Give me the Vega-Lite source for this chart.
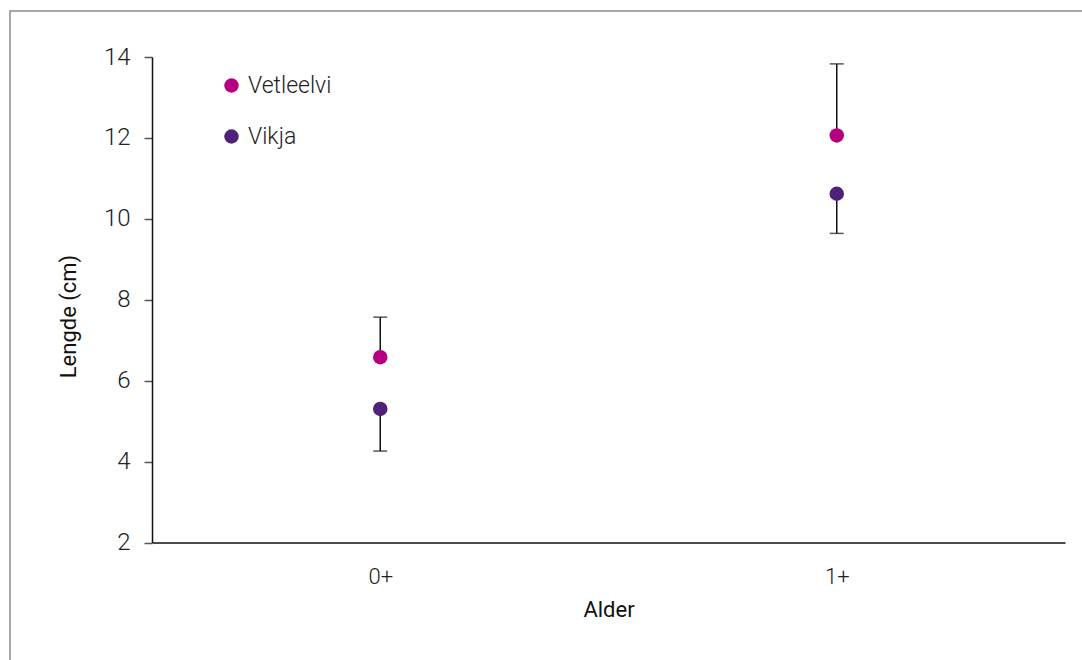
{
  "$schema": "https://vega.github.io/schema/vega-lite/v6.json",
  "width": 1073,
  "height": 650,
  "autosize": {"type": "none"},
  "padding": {"left": 10, "top": 11, "right": -1, "bottom": -1},
  "background": "white",
  "config": {
    "view": {"stroke": "#8c8c8c", "strokeWidth": 1.5},
    "font": "Roboto",
    "axis": {"labelFont": "Roboto", "titleFont": "Roboto", "labelColor": "#222222", "titleColor": "#111111", "grid": false}
  },
  "data": {
    "values": [
      {"Alder": "0+", "Elv": "Vetleelvi", "Lengde": 6.58, "Feilende": 7.57},
      {"Alder": "0+", "Elv": "Vikja", "Lengde": 5.3, "Feilende": 4.26},
      {"Alder": "1+", "Elv": "Vetleelvi", "Lengde": 12.06, "Feilende": 13.83},
      {"Alder": "1+", "Elv": "Vikja", "Lengde": 10.62, "Feilende": 9.64}
    ]
  },
  "encoding": {
    "x": {
      "field": "Alder",
      "type": "ordinal",
      "scale": {"type": "point", "domain": ["0+", "1+"], "range": [142, 1055], "padding": 0.5},
      "axis": {
        "title": "Alder",
        "orient": "bottom",
        "offset": -118.5,
        "labelAngle": 0,
        "ticks": false,
        "domainColor": "#111111",
        "domainWidth": 1.5,
        "labelFontSize": 22,
        "labelFontWeight": 300,
        "labelPadding": 24,
        "titleFontSize": 22,
        "titleFontWeight": "normal",
        "titlePadding": 12
      }
    }
  },
  "layer": [
    {
      "mark": {"type": "rule", "color": "#111111", "strokeWidth": 1.5},
      "encoding": {
        "y": {
          "field": "Lengde",
          "type": "quantitative",
          "scale": {"domain": [2, 14], "range": [531.5, 46], "nice": false, "zero": false},
          "axis": {
            "title": "Lengde (cm)",
            "orient": "left",
            "offset": -142,
            "values": [2, 4, 6, 8, 10, 12, 14],
            "format": "d",
            "domainColor": "#111111",
            "domainWidth": 1.5,
            "tickColor": "#555555",
            "tickSize": 8,
            "tickWidth": 1.5,
            "labelFontSize": 24,
            "labelFontWeight": 300,
            "labelPadding": 14,
            "titleFontSize": 22,
            "titleFontWeight": "normal",
            "titleX": -84,
            "titleY": 305,
            "titleBaseline": "middle",
            "titleAngle": -90
          }
        },
        "y2": {"field": "Feilende"}
      }
    },
    {
      "mark": {"type": "tick", "color": "#111111", "thickness": 1.5, "size": 14, "orient": "horizontal"},
      "encoding": {
        "y": {"field": "Feilende", "type": "quantitative"}
      }
    },
    {
      "mark": {"type": "point", "filled": true, "shape": "circle", "size": 210, "opacity": 1},
      "encoding": {
        "y": {"field": "Lengde", "type": "quantitative"},
        "color": {
          "field": "Elv",
          "type": "nominal",
          "scale": {"domain": ["Vetleelvi", "Vikja"], "range": ["#B5007F", "#4F2179"]},
          "legend": {
            "title": null,
            "orient": "none",
            "legendX": 210,
            "legendY": 63,
            "symbolSize": 210,
            "symbolType": "circle",
            "symbolOpacity": 1,
            "labelFontSize": 23,
            "labelFontWeight": 300,
            "labelColor": "#222222",
            "labelOffset": 5,
            "rowPadding": 27
          }
        }
      }
    }
  ]
}
